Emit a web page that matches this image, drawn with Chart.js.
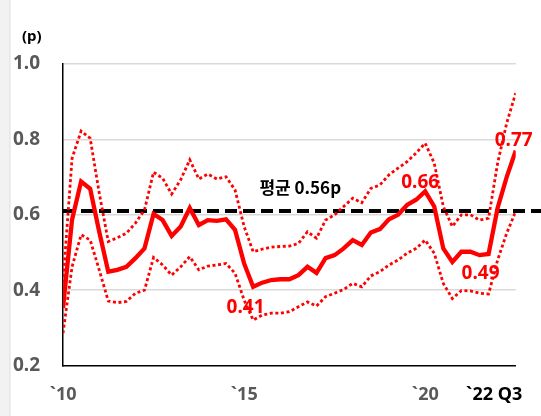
<!DOCTYPE html>
<html><head><meta charset="utf-8">
<script src="https://cdn.jsdelivr.net/npm/chart.js@4.4.1/dist/chart.umd.min.js"></script>
<style>html,body{margin:0;padding:0;background:#fff;overflow:hidden}#wrap{width:541px;height:416px;position:relative}</style>
</head><body><div id="wrap"><canvas id="c" width="541" height="416"></canvas></div>
<script>
// ---- data ----
const quarters = [
 '2010Q1','2010Q2','2010Q3','2010Q4','2011Q1','2011Q2','2011Q3','2011Q4',
 '2012Q1','2012Q2','2012Q3','2012Q4','2013Q1','2013Q2','2013Q3','2013Q4',
 '2014Q1','2014Q2','2014Q3','2014Q4','2015Q1','2015Q2','2015Q3','2015Q4',
 '2016Q1','2016Q2','2016Q3','2016Q4','2017Q1','2017Q2','2017Q3','2017Q4',
 '2018Q1','2018Q2','2018Q3','2018Q4','2019Q1','2019Q2','2019Q3','2019Q4',
 '2020Q1','2020Q2','2020Q3','2020Q4','2021Q1','2021Q2','2021Q3','2021Q4',
 '2022Q1','2022Q2','2022Q3'];
const mainSeries = [0.353,0.587,0.688,0.669,0.555,0.449,0.454,0.462,0.485,0.511,
 0.602,0.586,0.544,0.569,0.618,0.573,0.586,0.584,0.588,0.56,
 0.471,0.409,0.42,0.427,0.429,0.429,0.44,0.462,0.446,0.485,
 0.493,0.511,0.533,0.52,0.553,0.562,0.588,0.6,0.626,0.64,
 0.662,0.622,0.511,0.475,0.502,0.502,0.493,0.496,0.618,0.70,0.77];
const upperBand = [0.42,0.75,0.822,0.803,0.658,0.529,0.539,0.551,0.578,0.613,
 0.713,0.697,0.655,0.693,0.746,0.695,0.708,0.695,0.701,0.666,
 0.569,0.502,0.509,0.514,0.516,0.517,0.524,0.555,0.538,0.586,
 0.6,0.622,0.644,0.632,0.67,0.679,0.706,0.724,0.741,0.764,
 0.79,0.737,0.622,0.569,0.6,0.6,0.586,0.591,0.737,0.843,0.923];
const lowerBand = [0.286,0.462,0.547,0.533,0.454,0.371,0.367,0.37,0.392,0.40,
 0.487,0.467,0.44,0.462,0.489,0.454,0.464,0.467,0.471,0.445,
 0.374,0.321,0.334,0.339,0.339,0.343,0.356,0.369,0.358,0.383,
 0.392,0.402,0.418,0.409,0.438,0.449,0.467,0.48,0.498,0.511,
 0.533,0.498,0.418,0.378,0.399,0.398,0.392,0.39,0.48,0.551,0.609];
const yTicks = [0.2,0.4,0.6,0.8,1.0];
const xTickIndexes = [0,20,40,50];
const xTickLabels = ['`10','`15','`20','`22 Q3'];
const meanLineValue = 0.61;
const meanLabel = '평균 0.56p';
const unitLabel = '(p)';
const callouts = [{index:21,text:'0.41'},{index:47,text:'0.49'},{index:40,text:'0.66'},{index:50,text:'0.77'}];

// ---- styles / layout ----
const RED = '#ff0000';
const FONT = "'Noto Sans', 'Liberation Sans', sans-serif";
const lastTickShift = -2.4;
const calloutOffsets = {21:{dx:-7.6,dy:26},47:{dx:-8,dy:25},40:{dx:-5,dy:-3.4},50:{dx:-2,dy:-4.7}};

const toXY = arr => arr.map((v,i)=>({x:i,y:v}));

const decor = {
  id:'decor',
  beforeDraw(chart){
    const c = chart.ctx;
    c.save();
    c.fillStyle = '#f2f2f2';
    c.fillRect(0,0,10,chart.height);
    c.fillStyle = '#dedede';
    c.fillRect(9.5,0,1,chart.height);
    c.restore();
  },
  beforeDatasetsDraw(chart){
    const c = chart.ctx, ys = chart.scales.y;
    const y = ys.getPixelForValue(meanLineValue);
    c.save();
    c.strokeStyle = '#000';
    c.lineWidth = 4;
    c.setLineDash([12,6]);
    c.beginPath();
    c.moveTo(chart.chartArea.left, y);
    c.lineTo(chart.width, y);
    c.stroke();
    c.restore();
  },
  afterDatasetsDraw(chart){
    const c = chart.ctx, xs = chart.scales.x, ys = chart.scales.y;
    c.save();
    c.textAlign = 'center';
    c.textBaseline = 'alphabetic';
    c.fillStyle = RED;
    c.font = "bold 19px " + FONT;
    callouts.forEach(o=>{
      const off = calloutOffsets[o.index];
      const x = xs.getPixelForValue(o.index) + off.dx;
      const y = ys.getPixelForValue(mainSeries[o.index]) + off.dy;
      c.fillText(o.text, x, y);
    });
    c.fillStyle = '#000';
    c.font = "bold 17px 'Noto Sans CJK KR', " + FONT;
    c.fillText(meanLabel, xs.getPixelForValue(26.2), ys.getPixelForValue(meanLineValue) - 17);
    c.textAlign = 'left';
    c.font = "bold 15px " + FONT;
    c.fillText(unitLabel, 22, 41);
    c.restore();
  }
};

new Chart(document.getElementById('c'), {
  type:'line',
  data:{
    labels: quarters,
    datasets:[
      {label:'upper', data: toXY(upperBand), borderColor:RED, borderWidth:2.8, borderDash:[3,2.6], pointRadius:0, tension:0, fill:false},
      {label:'lower', data: toXY(lowerBand), borderColor:RED, borderWidth:2.8, borderDash:[3,2.6], pointRadius:0, tension:0, fill:false},
      {label:'main', data: toXY(mainSeries), borderColor:RED, borderWidth:4.3, pointRadius:0, tension:0, fill:false, borderJoinStyle:'miter'}
    ]
  },
  options:{
    responsive:false, animation:false, devicePixelRatio:1,
    layout:{padding:{top:64,right:17,left:0,bottom:0}},
    plugins:{legend:{display:false}, tooltip:{enabled:false}},
    scales:{
      x:{
        type:'linear', min:0, max:50,
        grid:{display:false, drawTicks:false},
        border:{display:true, color:'#000', width:1.5},
        afterBuildTicks: s => { s.ticks = xTickIndexes.map((v,i)=>({value: i===xTickIndexes.length-1 ? v+lastTickShift : v})); },
        afterFit: s => { s.height = 50.4; },
        ticks:{
          autoSkip:false, maxRotation:0, minRotation:0, padding:18,
          font:{family:FONT, size:18, weight:'bold'},
          color: ctx => ctx.index === xTickLabels.length-1 ? '#000' : '#595959',
          callback:(v,i)=> xTickLabels[i]
        }
      },
      y:{
        min:0.2, max:1.0,
        afterBuildTicks: s => { s.ticks = yTicks.map(v=>({value:v})); },
        afterFit: s => { s.width = 63; },
        grid:{ color: c => (c.tick && c.tick.value < 0.25) ? 'rgba(0,0,0,0)' : '#d9d9d9', lineWidth:1.5, drawTicks:false },
        border:{display:true, color:'#000', width:1.5},
        ticks:{ padding:23, font:{family:FONT, size:19, weight:'bold'}, color:'#595959', callback: v => Number(v).toFixed(1) }
      }
    }
  },
  plugins:[decor]
});
</script></body></html>
